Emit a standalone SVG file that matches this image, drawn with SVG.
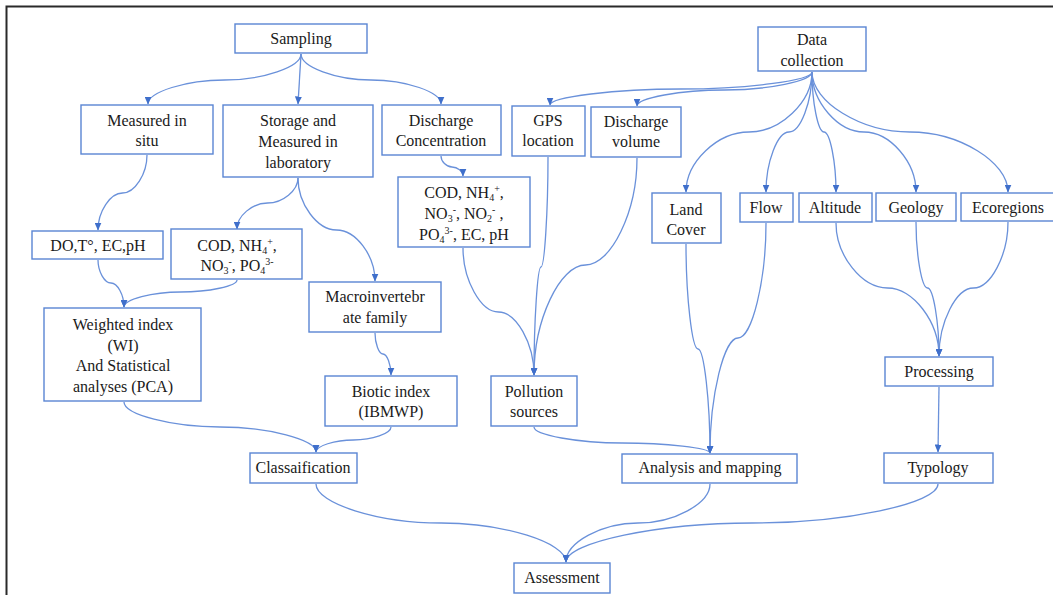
<svg xmlns="http://www.w3.org/2000/svg" width="1053" height="595" viewBox="0 0 1053 595">
<style>
.box{fill:#ffffff;stroke:#5a85d3;stroke-width:1.4}
.t{font-size:16px;fill:#1a1a1a;text-anchor:middle}
.s{font-size:10px}
.c{fill:none;stroke:#6a91da;stroke-width:1.3;marker-end:url(#ah)}
</style>
<defs>
<marker id="ah" markerUnits="userSpaceOnUse" markerWidth="8" markerHeight="7" refX="7.5" refY="3.5" orient="auto">
<path d="M0,0 L8,3.5 L0,7 z" fill="#3f6fcb"/>
</marker>
</defs>
<rect x="0" y="0" width="1053" height="595" fill="#ffffff"/>
<rect x="6.5" y="6.5" width="1070" height="610" fill="none" stroke="#2a2a2a" stroke-width="2"/>

<g id="connectors">
<path class="c" d="M301,54 C301,67 262.75,80 224.5,80 C186.25,80 148,92 148,104"/>
<path class="c" d="M301,54 L298,104"/>
<path class="c" d="M301,54 C301,67 336,80 371,80 C406,80 441,92 441,104"/>
<path class="c" d="M147,155 C147,174 134.75,193 122.5,193 C110.25,193 98,211.5 98,230"/>
<path class="c" d="M298,178 C298,190.5 282.75,203 267.5,203 C252.25,203 237,216 237,229"/>
<path class="c" d="M298,178 C298,204 317.25,230 336.5,230 C355.75,230 375,255.5 375,281"/>
<path class="c" d="M441,156 C441,161.5 446.5,167 452,167 C457.5,167 463,171.5 463,176"/>
<path class="c" d="M98,260 C98,271.5 104.5,283 111,283 C117.5,283 124,295 124,307"/>
<path class="c" d="M237,280 C237,286 208.75,292 180.5,292 C152.25,292 124,299.5 124,307"/>
<path class="c" d="M375,333 C375,343.5 379,354 383,354 C387,354 391,364.5 391,375"/>
<path class="c" d="M124,402 C124,414.5 172,427 220,427 C268,427 316,439.5 316,452"/>
<path class="c" d="M391,427 C391,433.5 372.25,440 353.5,440 C334.75,440 316,446 316,452"/>
<path class="c" d="M316,484 C316,503.5 378.5,523 441,523 C503.5,523 566,542.5 566,562"/>
<path class="c" d="M710,484 C710,503.5 674,523 638,523 C602,523 566,542.5 566,562"/>
<path class="c" d="M938,484 C938,503.5 845,523 752,523 C659,523 566,542.5 566,562"/>
<path class="c" d="M812,72 C812,80.5 746.5,89 681,89 C615.5,89 550,97 550,105"/>
<path class="c" d="M812,72 C812,81 768.25,90 724.5,90 C680.75,90 637,98 637,106"/>
<path class="c" d="M812,72 C812,102 780.5,132 749,132 C717.5,132 686,162 686,192"/>
<path class="c" d="M812,72 C812,102 800.5,132 789,132 C777.5,132 766,162 766,192"/>
<path class="c" d="M812,72 C812,102 818,132 824,132 C830,132 836,162 836,192"/>
<path class="c" d="M812,72 C812,102 838,132 864,132 C890,132 916,162 916,192"/>
<path class="c" d="M812,72 C812,102 861,132 910,132 C959,132 1008,162 1008,192"/>
<path class="c" d="M463,248 C463,280 480.75,312 498.5,312 C516.25,312 534,343.5 534,375"/>
<path class="c" d="M548,157 C548,212 544.5,267 541,267 C537.5,267 534,321 534,375"/>
<path class="c" d="M637,158 C637,211.5 611.25,265 585.5,265 C559.75,265 534,320 534,375"/>
<path class="c" d="M534,427 C534,435 578,443 622,443 C666,443 710,448 710,453"/>
<path class="c" d="M686,244 C686,296.5 692,349 698,349 C704,349 710,401 710,453"/>
<path class="c" d="M766,223 C766,280.5 752,338 738,338 C724,338 710,395.5 710,453"/>
<path class="c" d="M836,223 C836,255.5 861.75,288 887.5,288 C913.25,288 939,322 939,356"/>
<path class="c" d="M916,222 C916,255 921.75,288 927.5,288 C933.25,288 939,322 939,356"/>
<path class="c" d="M1008,222 C1008,255 990.75,288 973.5,288 C956.25,288 939,322 939,356"/>
<path class="c" d="M939,387 L938,452"/>
</g>

<g id="sampling" font-family="Liberation Serif"><rect class="box" x="235" y="24" width="132" height="29"/><text class="t" style="font-family:'Liberation Serif',serif" x="301" y="44">Sampling</text></g>
<g id="measured-in-situ" font-family="Liberation Serif"><rect class="box" x="81" y="105" width="132" height="49"/><text class="t" style="font-family:'Liberation Serif',serif" x="147" y="126">Measured in</text><text class="t" style="font-family:'Liberation Serif',serif" x="147" y="146">situ</text></g>
<g id="storage" font-family="Liberation Serif"><rect class="box" x="223" y="105" width="150" height="72"/><text class="t" style="font-family:'Liberation Serif',serif" x="298" y="126">Storage and</text><text class="t" style="font-family:'Liberation Serif',serif" x="298" y="147">Measured in</text><text class="t" style="font-family:'Liberation Serif',serif" x="298" y="168">laboratory</text></g>
<g id="discharge-concentration" font-family="Liberation Serif"><rect class="box" x="382" y="105" width="119" height="50"/><text class="t" style="font-family:'Liberation Serif',serif" x="441" y="126">Discharge</text><text class="t" style="font-family:'Liberation Serif',serif" x="441" y="146">Concentration</text></g>
<g id="gps-location" font-family="Liberation Serif"><rect class="box" x="512" y="106" width="73" height="50"/><text class="t" style="font-family:'Liberation Serif',serif" x="548" y="126">GPS</text><text class="t" style="font-family:'Liberation Serif',serif" x="548" y="146">location</text></g>
<g id="discharge-volume" font-family="Liberation Serif"><rect class="box" x="591" y="107" width="90" height="50"/><text class="t" style="font-family:'Liberation Serif',serif" x="636" y="127">Discharge</text><text class="t" style="font-family:'Liberation Serif',serif" x="636" y="147">volume</text></g>
<g id="cod-discharge" font-family="Liberation Serif"><rect class="box" x="398" y="177" width="132" height="70"/>
<text class="t" style="font-family:'Liberation Serif',serif" x="464" y="198">COD, NH<tspan class="s" dy="3">4</tspan><tspan class="s" dy="-9">+</tspan><tspan dy="6">,</tspan></text>
<text class="t" style="font-family:'Liberation Serif',serif" x="464" y="219">NO<tspan class="s" dy="3">3</tspan><tspan class="s" dy="-9">-</tspan><tspan dy="6">, NO</tspan><tspan class="s" dy="3">2</tspan><tspan class="s" dy="-9">-</tspan><tspan dy="6"> ,</tspan></text>
<text class="t" style="font-family:'Liberation Serif',serif" x="464" y="240">PO<tspan class="s" dy="3">4</tspan><tspan class="s" dy="-9">3-</tspan><tspan dy="6">, EC, pH</tspan></text></g>
<g id="data-collection" font-family="Liberation Serif"><rect class="box" x="758" y="27" width="108" height="44"/><text class="t" style="font-family:'Liberation Serif',serif" x="812" y="45">Data</text><text class="t" style="font-family:'Liberation Serif',serif" x="812" y="66">collection</text></g>
<g id="land-cover" font-family="Liberation Serif"><rect class="box" x="652" y="193" width="69" height="50"/><text class="t" style="font-family:'Liberation Serif',serif" x="686" y="215">Land</text><text class="t" style="font-family:'Liberation Serif',serif" x="686" y="235">Cover</text></g>
<g id="flow" font-family="Liberation Serif"><rect class="box" x="740" y="193" width="53" height="29"/><text class="t" style="font-family:'Liberation Serif',serif" x="766" y="213">Flow</text></g>
<g id="altitude" font-family="Liberation Serif"><rect class="box" x="799" y="193" width="73" height="29"/><text class="t" style="font-family:'Liberation Serif',serif" x="835" y="213">Altitude</text></g>
<g id="geology" font-family="Liberation Serif"><rect class="box" x="876" y="193" width="80" height="28"/><text class="t" style="font-family:'Liberation Serif',serif" x="916" y="213">Geology</text></g>
<g id="ecoregions" font-family="Liberation Serif"><rect class="box" x="961" y="193" width="95" height="28"/><text class="t" style="font-family:'Liberation Serif',serif" x="1008" y="213">Ecoregions</text></g>
<g id="do-t-ec-ph" font-family="Liberation Serif"><rect class="box" x="32" y="231" width="131" height="28"/><text class="t" style="font-family:'Liberation Serif',serif" x="98" y="251">DO,T°, EC,pH</text></g>
<g id="cod-lab" font-family="Liberation Serif"><rect class="box" x="171" y="229" width="131" height="50"/>
<text class="t" style="font-family:'Liberation Serif',serif" x="237" y="251">COD, NH<tspan class="s" dy="3">4</tspan><tspan class="s" dy="-9">+</tspan><tspan dy="6">,</tspan></text>
<text class="t" style="font-family:'Liberation Serif',serif" x="237" y="271">NO<tspan class="s" dy="3">3</tspan><tspan class="s" dy="-9">-</tspan><tspan dy="6">, PO</tspan><tspan class="s" dy="3">4</tspan><tspan class="s" dy="-9">3-</tspan></text></g>
<g id="macroinvertebrate" font-family="Liberation Serif"><rect class="box" x="309" y="282" width="132" height="50"/><text class="t" style="font-family:'Liberation Serif',serif" x="375" y="302">Macroinvertebr</text><text class="t" style="font-family:'Liberation Serif',serif" x="375" y="323">ate family</text></g>
<g id="weighted-index" font-family="Liberation Serif"><rect class="box" x="44" y="308" width="157" height="93"/><text class="t" style="font-family:'Liberation Serif',serif" x="123" y="330">Weighted index</text><text class="t" style="font-family:'Liberation Serif',serif" x="123" y="351">(WI)</text><text class="t" style="font-family:'Liberation Serif',serif" x="123" y="371">And Statistical</text><text class="t" style="font-family:'Liberation Serif',serif" x="123" y="392">analyses (PCA)</text></g>
<g id="biotic-index" font-family="Liberation Serif"><rect class="box" x="325" y="376" width="132" height="50"/><text class="t" style="font-family:'Liberation Serif',serif" x="391" y="397">Biotic index</text><text class="t" style="font-family:'Liberation Serif',serif" x="391" y="417">(IBMWP)</text></g>
<g id="pollution-sources" font-family="Liberation Serif"><rect class="box" x="491" y="376" width="86" height="50"/><text class="t" style="font-family:'Liberation Serif',serif" x="534" y="397">Pollution</text><text class="t" style="font-family:'Liberation Serif',serif" x="534" y="417">sources</text></g>
<g id="processing" font-family="Liberation Serif"><rect class="box" x="885" y="357" width="108" height="29"/><text class="t" style="font-family:'Liberation Serif',serif" x="939" y="377">Processing</text></g>
<g id="classaification" font-family="Liberation Serif"><rect class="box" x="250" y="453" width="107" height="30"/><text class="t" style="font-family:'Liberation Serif',serif" x="303" y="473">Classaification</text></g>
<g id="analysis-mapping" font-family="Liberation Serif"><rect class="box" x="622" y="454" width="175" height="29"/><text class="t" style="font-family:'Liberation Serif',serif" x="710" y="473">Analysis and mapping</text></g>
<g id="typology" font-family="Liberation Serif"><rect class="box" x="884" y="453" width="109" height="30"/><text class="t" style="font-family:'Liberation Serif',serif" x="938" y="473">Typology</text></g>
<g id="assessment" font-family="Liberation Serif"><rect class="box" x="514" y="563" width="96" height="30"/><text class="t" style="font-family:'Liberation Serif',serif" x="562" y="583">Assessment</text></g>
</svg>
